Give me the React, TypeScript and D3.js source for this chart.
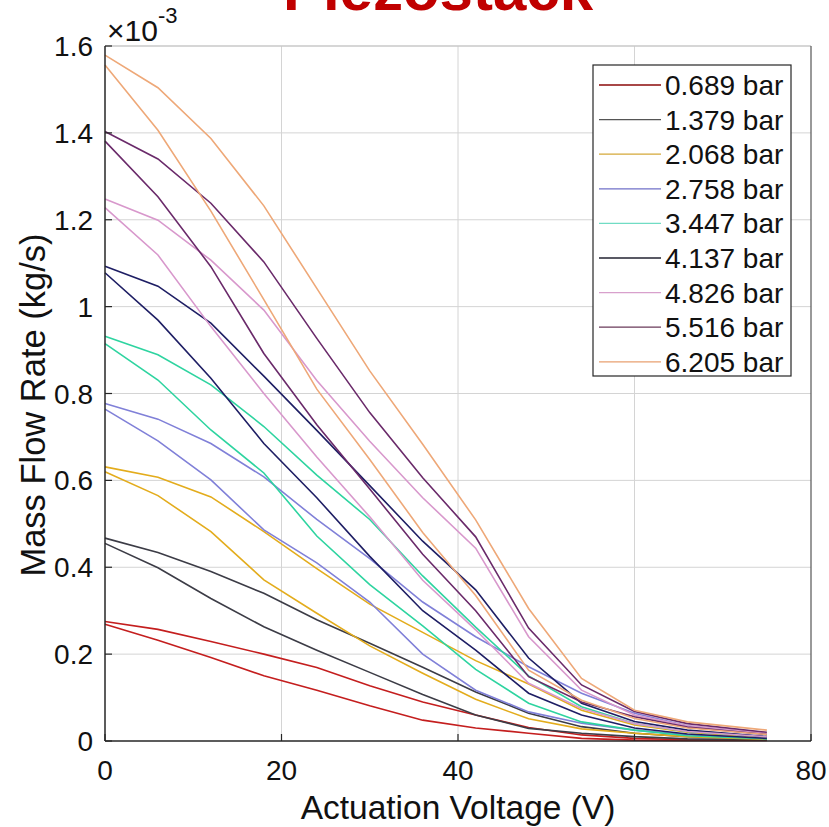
import React from "react";
import * as d3 from "d3";

// Actuation voltage (V) sample points
const voltage = [0, 6, 12, 18, 24, 30, 36, 42, 48, 54, 60, 66, 75];

// Pressure legend labels
const pressures = ["0.689 bar", "1.379 bar", "2.068 bar", "2.758 bar", "3.447 bar", "4.137 bar", "4.826 bar", "5.516 bar", "6.205 bar"];

// Mass flow rate (x1e-3 kg/s): upper branch (A) and lower branch (B) per pressure
const p0689A = [0.275, 0.257, 0.229, 0.2, 0.169, 0.127, 0.09, 0.06, 0.031, 0.014, 0.006, 0.003, 0.002];
const p0689B = [0.269, 0.232, 0.192, 0.15, 0.117, 0.081, 0.048, 0.03, 0.018, 0.006, 0.002, 0.001, 0.001];
const p1379A = [0.467, 0.434, 0.39, 0.34, 0.279, 0.225, 0.17, 0.113, 0.064, 0.033, 0.018, 0.01, 0.005];
const p1379B = [0.455, 0.399, 0.328, 0.263, 0.209, 0.158, 0.107, 0.06, 0.029, 0.018, 0.01, 0.005, 0.003];
const p2068A = [0.631, 0.607, 0.562, 0.482, 0.397, 0.315, 0.25, 0.185, 0.131, 0.071, 0.037, 0.02, 0.008];
const p2068B = [0.62, 0.565, 0.482, 0.371, 0.294, 0.219, 0.156, 0.096, 0.051, 0.028, 0.018, 0.01, 0.004];
const p2758A = [0.777, 0.741, 0.685, 0.608, 0.51, 0.42, 0.32, 0.24, 0.171, 0.11, 0.064, 0.035, 0.015];
const p2758B = [0.764, 0.691, 0.601, 0.486, 0.41, 0.32, 0.2, 0.117, 0.067, 0.041, 0.025, 0.014, 0.006];
const p3447A = [0.932, 0.889, 0.82, 0.724, 0.612, 0.51, 0.38, 0.262, 0.15, 0.079, 0.04, 0.022, 0.01];
const p3447B = [0.915, 0.831, 0.716, 0.617, 0.472, 0.36, 0.265, 0.165, 0.087, 0.044, 0.025, 0.012, 0.005];
const p4137A = [1.093, 1.047, 0.962, 0.84, 0.715, 0.588, 0.46, 0.348, 0.191, 0.087, 0.045, 0.025, 0.01];
const p4137B = [1.078, 0.969, 0.835, 0.685, 0.56, 0.425, 0.3, 0.209, 0.11, 0.06, 0.03, 0.016, 0.006];
const p4826A = [1.248, 1.199, 1.107, 0.992, 0.83, 0.69, 0.56, 0.444, 0.24, 0.117, 0.06, 0.035, 0.018];
const p4826B = [1.228, 1.119, 0.954, 0.8, 0.654, 0.516, 0.37, 0.256, 0.133, 0.075, 0.04, 0.022, 0.01];
const p5516A = [1.403, 1.34, 1.238, 1.103, 0.927, 0.756, 0.606, 0.47, 0.26, 0.129, 0.068, 0.04, 0.02];
const p5516B = [1.381, 1.253, 1.092, 0.892, 0.728, 0.58, 0.43, 0.3, 0.148, 0.09, 0.056, 0.032, 0.015];
const p6205A = [1.579, 1.504, 1.387, 1.232, 1.042, 0.852, 0.683, 0.509, 0.305, 0.144, 0.071, 0.044, 0.025];
const p6205B = [1.556, 1.406, 1.22, 1.016, 0.81, 0.648, 0.48, 0.335, 0.163, 0.094, 0.052, 0.03, 0.015];

const seriesA = [p0689A, p1379A, p2068A, p2758A, p3447A, p4137A, p4826A, p5516A, p6205A];
const seriesB = [p0689B, p1379B, p2068B, p2758B, p3447B, p4137B, p4826B, p5516B, p6205B];

const colors = ["#c41e1e", "#3c3c46", "#e3ac1c", "#8080d8", "#2ed4a0", "#1e1e64", "#d898cc", "#6a2a6a", "#eea878"];
const legendColors = ["#8b0a0a", "#555555", "#d4a838", "#7070c8", "#70dcc4", "#222230", "#d8a0cc", "#6a3a5a", "#e8a070"];

const xTicks = [0, 20, 40, 60, 80];
const yTicks = [0, 0.2, 0.4, 0.6, 0.8, 1, 1.2, 1.4, 1.6];

export default function App() {
  const W = 829, H = 827;
  const left = 105, right = 811, top = 46, bottom = 741;
  const x = d3.scaleLinear().domain([0, 80]).range([left, right]);
  const y = d3.scaleLinear().domain([0, 1.6]).range([bottom, top]);
  const line = d3.line<number>().x((_, i) => x(voltage[i])).y((d) => y(d));
  const font = "'Liberation Sans', Arial, Helvetica, sans-serif";

  const legX = 593, legY = 65, legW = 198, legH = 311;
  const legStep = 34.6;

  return (
    <svg width={W} height={H} style={{ position: "absolute", left: 0, top: 0, background: "#fff" }} fontFamily={font}>
      <rect x={0} y={0} width={W} height={H} fill="#fff" />
      {/* title (clipped at top, as in the reference) */}
      <text x={438} y={10} textAnchor="middle" fontSize={60} fontWeight="bold" fill="#c00000">Piezostack</text>
      {/* grid */}
      {xTicks.slice(1, -1).map((t) => (
        <line key={"gx" + t} x1={x(t)} x2={x(t)} y1={top} y2={bottom} stroke="#d4d4d4" strokeWidth={1} />
      ))}
      {yTicks.slice(1, -1).map((t) => (
        <line key={"gy" + t} x1={left} x2={right} y1={y(t)} y2={y(t)} stroke="#d4d4d4" strokeWidth={1} />
      ))}
      {/* series */}
      {seriesA.map((s, i) => (
        <g key={"s" + i}>
          <path d={line(s) || ""} fill="none" stroke={colors[i]} strokeWidth={1.6} />
          <path d={line(seriesB[i]) || ""} fill="none" stroke={colors[i]} strokeWidth={1.6} />
        </g>
      ))}
      {/* axes box */}
      <line x1={left} x2={right} y1={top} y2={top} stroke="#c8c8c8" strokeWidth={1.5} />
      <line x1={right} x2={right} y1={top} y2={bottom} stroke="#555" strokeWidth={1.2} />
      <line x1={left} x2={left} y1={top} y2={bottom} stroke="#262626" strokeWidth={1.5} />
      <line x1={left} x2={right} y1={bottom} y2={bottom} stroke="#262626" strokeWidth={1.5} />
      {/* ticks */}
      {xTicks.map((t) => (
        <g key={"xt" + t}>
          <line x1={x(t)} x2={x(t)} y1={bottom} y2={bottom - 7} stroke="#262626" strokeWidth={1.2} />
          <text x={x(t)} y={780} textAnchor="middle" fontSize={28} fill="#111">{t}</text>
        </g>
      ))}
      {yTicks.map((t) => (
        <g key={"yt" + t}>
          <line x1={left} x2={left + 7} y1={y(t)} y2={y(t)} stroke="#262626" strokeWidth={1.2} />
          <text x={93} y={y(t) + 10} textAnchor="end" fontSize={28} fill="#111">{d3.format("~g")(t)}</text>
        </g>
      ))}
      {/* exponent */}
      <text x={107} y={41} fontSize={30} fill="#111">×10<tspan dy={-18} fontSize={22}>-3</tspan></text>
      {/* axis labels */}
      <text x={x(40)} y={819} textAnchor="middle" fontSize={33.5} fill="#111">Actuation Voltage (V)</text>
      <text transform={`translate(45, 405) rotate(-90)`} textAnchor="middle" fontSize={34.5} fill="#111">Mass Flow Rate (kg/s)</text>
      {/* legend */}
      <rect x={legX} y={legY} width={legW} height={legH} fill="#fff" stroke="#262626" strokeWidth={1.2} />
      {pressures.map((p, i) => (
        <g key={"lg" + i}>
          <line x1={599} x2={661} y1={legY + 20 + i * legStep} y2={legY + 20 + i * legStep} stroke={legendColors[i]} strokeWidth={1.3} />
          <text x={665} y={legY + 20 + i * legStep + 10} fontSize={28} fill="#111">{p}</text>
        </g>
      ))}
    </svg>
  );
}
